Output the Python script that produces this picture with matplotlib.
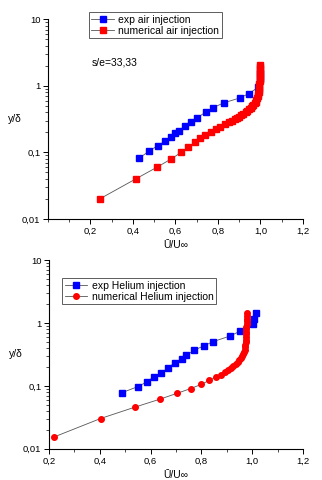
import matplotlib
matplotlib.use('Agg') # 画面なしで描画
import matplotlib.pyplot as plt # グラフ描画用ライブラリ
import matplotlib.ticker as mticker # 目盛り設定用
import numpy as np # 数値計算用ライブラリ

plt.rcParams['font.family'] = ['Liberation Sans', 'DejaVu Sans']

# 上段：空気噴射（実験値）
exp_air_x = [0.430, 0.477, 0.516, 0.550, 0.580, 0.597, 0.617, 0.645, 0.675, 0.703,
             0.742, 0.778, 0.827, 0.903, 0.945, 0.990, 1.000, 1.000]
exp_air_y = [0.082, 0.105, 0.126, 0.147, 0.169, 0.194, 0.212, 0.250, 0.287, 0.333,
             0.401, 0.471, 0.553, 0.657, 0.764, 0.950, 1.250, 1.550]

# 上段：空気噴射（数値計算）
num_air_x = [0.244, 0.414, 0.514, 0.581, 0.627, 0.661, 0.691, 0.716, 0.738, 0.766,
             0.789, 0.809, 0.831, 0.852, 0.866, 0.878, 0.890, 0.900, 0.910, 0.920,
             0.930, 0.938, 0.946, 0.953, 0.960, 0.966, 0.972, 0.977, 0.981, 0.985,
             0.988, 0.990, 0.992, 0.993, 0.994, 0.995, 0.995, 0.996, 0.996, 0.996,
             0.997, 0.997, 0.997, 0.997, 0.997]
num_air_y = [0.020, 0.040, 0.060, 0.080, 0.100, 0.120, 0.142, 0.163, 0.181, 0.200,
             0.224, 0.244, 0.265, 0.287, 0.300, 0.315, 0.330, 0.345, 0.362, 0.380,
             0.400, 0.420, 0.442, 0.465, 0.490, 0.515, 0.545, 0.575, 0.610, 0.650,
             0.690, 0.740, 0.800, 0.860, 0.930, 1.000, 1.080, 1.170, 1.270, 1.380,
             1.500, 1.630, 1.770, 1.920, 2.050]

# 下段：ヘリウム噴射（実験値）
exp_he_x = [0.487, 0.550, 0.587, 0.613, 0.641, 0.669, 0.695, 0.722, 0.741, 0.770,
            0.809, 0.846, 0.913, 0.953, 1.003, 1.008, 1.014]
exp_he_y = [0.078, 0.0975, 0.117, 0.141, 0.159, 0.195, 0.234, 0.272, 0.307, 0.368,
            0.432, 0.506, 0.622, 0.746, 0.960, 1.170, 1.420]

# 下段：ヘリウム噴射（数値計算）
num_he_x = [0.218, 0.403, 0.537, 0.636, 0.705, 0.758, 0.800, 0.830, 0.856, 0.876,
            0.893, 0.905, 0.916, 0.926, 0.935, 0.943, 0.950, 0.956, 0.961, 0.965,
            0.968, 0.970, 0.972, 0.973, 0.974, 0.975, 0.975, 0.976, 0.976, 0.977,
            0.977, 0.978, 0.978, 0.979, 0.980, 0.981]
num_he_y = [0.0153, 0.0303, 0.0458, 0.0614, 0.0765, 0.0908, 0.106, 0.122, 0.137, 0.151,
            0.167, 0.180, 0.193, 0.207, 0.222, 0.238, 0.255, 0.275, 0.297, 0.320,
            0.345, 0.375, 0.410, 0.450, 0.495, 0.545, 0.600, 0.660, 0.730, 0.800,
            0.880, 0.970, 1.070, 1.180, 1.300, 1.450]

x_ticks = [0.2, 0.4, 0.6, 0.8, 1.0, 1.2]
y_ticks = [0.01, 0.1, 1, 10]
y_tick_labels = ['0,01', '0,1', '1', '10']
x_label = 'Ū/U∞'
y_label = 'y/δ'


# 軸の体裁をそろえる関数
def style_axis(ax, xmin):
    ax.set_yscale('log')
    ax.set_xlim(xmin, 1.2)
    ax.set_ylim(0.01, 10)
    ax.spines['top'].set_visible(False)
    ax.spines['right'].set_visible(False)
    for s in ['left', 'bottom']:
        ax.spines[s].set_linewidth(0.8)
    ax.set_xticks(x_ticks)
    ax.set_xticklabels([f'{v:.1f}'.replace('.', ',') for v in x_ticks])
    ax.xaxis.set_minor_locator(mticker.MultipleLocator(0.1))
    ax.set_yticks(y_ticks)
    ax.set_yticklabels(y_tick_labels)
    ax.yaxis.set_minor_locator(mticker.LogLocator(base=10, subs=np.arange(2, 10)))
    ax.yaxis.set_minor_formatter(mticker.NullFormatter())
    ax.tick_params(which='major', direction='out', length=3.5, width=0.7, labelsize=6.8, pad=2)
    ax.tick_params(which='minor', direction='out', length=2, width=0.5)
    ax.set_ylabel(y_label, rotation=0, fontsize=7.5, va='center')
    ax.yaxis.set_label_coords(-0.13, 0.5)
    ax.set_xlabel(x_label, fontsize=7.5, labelpad=3)


fig = plt.figure(figsize=(3.22, 4.8), dpi=100)

# 上段のグラフ
ax1 = fig.add_axes([0.149, 0.544, 0.792, 0.416])
ax1.plot(exp_air_x, exp_air_y, color='#555555', lw=0.6, marker='s', ms=3.8,
         mfc='#0000ff', mec='#0000ff', label='exp air injection')
ax1.plot(num_air_x, num_air_y, color='#555555', lw=0.6, marker='s', ms=3.8,
         mfc='#ff0000', mec='#ff0000', label='numerical air injection')
style_axis(ax1, 0.0)
ax1.text(0.17, 0.785, 's/e=33,33', transform=ax1.transAxes, fontsize=7.5, va='center')
leg1 = ax1.legend(loc='upper left', bbox_to_anchor=(0.16, 1.035), fontsize=7.5,
                  frameon=True, fancybox=False, handlelength=2.2, handletextpad=0.4,
                  borderpad=0.25, labelspacing=0.1, borderaxespad=0)
leg1.get_frame().set_edgecolor('#333333')
leg1.get_frame().set_linewidth(0.7)

# 下段のグラフ
ax2 = fig.add_axes([0.152, 0.065, 0.789, 0.393])
ax2.plot(exp_he_x, exp_he_y, color='#555555', lw=0.6, marker='s', ms=3.8,
         mfc='#0000ff', mec='#0000ff', label='exp Helium injection')
ax2.plot(num_he_x, num_he_y, color='#555555', lw=0.6, marker='o', ms=4.0,
         mfc='#ff0000', mec='#ff0000', label='numerical Helium injection')
style_axis(ax2, 0.2)
leg2 = ax2.legend(loc='upper left', bbox_to_anchor=(0.051, 0.905), fontsize=7.5,
                  frameon=True, fancybox=False, handlelength=2.2, handletextpad=0.4,
                  borderpad=0.25, labelspacing=0.1, borderaxespad=0)
leg2.get_frame().set_edgecolor('#333333')
leg2.get_frame().set_linewidth(0.7)

fig.savefig('out.png', dpi=100)
plt.close(fig)
